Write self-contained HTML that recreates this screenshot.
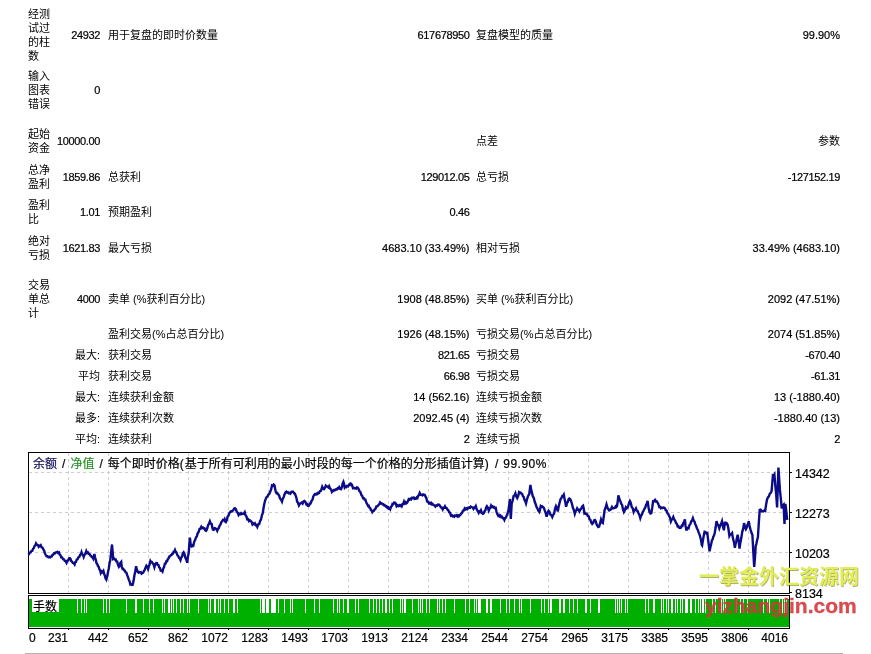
<!DOCTYPE html>
<html><head><meta charset="utf-8"><style>
html,body{margin:0;padding:0;background:#fff;width:871px;height:654px;overflow:hidden;position:relative}
.t{position:absolute;font-family:"Liberation Sans", "Noto Sans CJK SC", sans-serif;font-size:11px;line-height:14px;color:#000;white-space:nowrap;}
.n{letter-spacing:-0.35px}
.v{-webkit-text-stroke:0.2px #000}
.ch{position:absolute;left:0;top:0}
.c{position:absolute;font-family:"Liberation Sans", "Noto Sans CJK SC", sans-serif;font-size:12px;line-height:14px;white-space:nowrap;color:#000;-webkit-text-stroke:0.2px currentColor}
.xl{position:absolute;top:631px;font-family:"Liberation Sans", "Noto Sans CJK SC", sans-serif;font-size:12px;line-height:14px;white-space:nowrap;-webkit-text-stroke:0.2px #000}
.yl{position:absolute;left:795px;font-family:"Liberation Sans", "Noto Sans CJK SC", sans-serif;font-size:12.5px;line-height:14px;white-space:nowrap;-webkit-text-stroke:0.2px #000}
.hr{position:absolute;left:25px;top:653px;width:818px;height:1px;background:#b4b4b4}
.wm1{position:absolute;left:699px;top:565px;font-family:"Liberation Sans","Noto Sans CJK SC",sans-serif;font-weight:700;font-size:20px;line-height:24px;color:#e2ee58;text-shadow:0.7px 0.7px 0 rgba(110,110,0,0.55);white-space:nowrap}
.wm2{position:absolute;left:705px;top:594px;font-family:"Liberation Sans",sans-serif;font-weight:bold;font-size:21px;line-height:24px;color:rgba(212,52,58,0.88);-webkit-text-stroke:0.3px rgba(212,52,58,0.88);white-space:nowrap}
</style></head><body>
<div class="t" style="left:28px;top:7.3px">经测<br>试过<br>的柱<br>数</div>
<div class="t n v" style="right:771px;top:28.3px">24932</div>
<div class="t " style="left:108px;top:28.3px">用于复盘的即时价数量</div>
<div class="t n v" style="right:401.5px;top:28.3px">617678950</div>
<div class="t " style="left:476px;top:28.3px">复盘模型的质量</div>
<div class="t v" style="right:31px;top:28.3px">99.90%</div>
<div class="t" style="left:28px;top:69.3px">输入<br>图表<br>错误</div>
<div class="t n v" style="right:771px;top:83.3px">0</div>
<div class="t" style="left:28px;top:127.4px">起始<br>资金</div>
<div class="t n v" style="right:771px;top:134.4px">10000.00</div>
<div class="t " style="left:476px;top:134.4px">点差</div>
<div class="t " style="right:31px;top:134.4px">参数</div>
<div class="t" style="left:28px;top:163.3px">总净<br>盈利</div>
<div class="t n v" style="right:771px;top:170.3px">1859.86</div>
<div class="t " style="left:108px;top:170.3px">总获利</div>
<div class="t n v" style="right:401.5px;top:170.3px">129012.05</div>
<div class="t " style="left:476px;top:170.3px">总亏损</div>
<div class="t n v" style="right:31px;top:170.3px">-127152.19</div>
<div class="t" style="left:28px;top:198.2px">盈利<br>比</div>
<div class="t n v" style="right:771px;top:205.2px">1.01</div>
<div class="t " style="left:108px;top:205.2px">预期盈利</div>
<div class="t n v" style="right:401.5px;top:205.2px">0.46</div>
<div class="t" style="left:28px;top:234.4px">绝对<br>亏损</div>
<div class="t n v" style="right:771px;top:241.4px">1621.83</div>
<div class="t " style="left:108px;top:241.4px">最大亏损</div>
<div class="t v" style="right:401.5px;top:241.4px">4683.10 (33.49%)</div>
<div class="t " style="left:476px;top:241.4px">相对亏损</div>
<div class="t v" style="right:31px;top:241.4px">33.49% (4683.10)</div>
<div class="t" style="left:28px;top:278.3px">交易<br>单总<br>计</div>
<div class="t n v" style="right:771px;top:291.5px">4000</div>
<div class="t " style="left:108px;top:291.5px">卖单 (%获利百分比)</div>
<div class="t v" style="right:401.5px;top:291.5px">1908 (48.85%)</div>
<div class="t " style="left:476px;top:291.5px">买单 (%获利百分比)</div>
<div class="t v" style="right:31px;top:291.5px">2092 (47.51%)</div>
<div class="t " style="left:108px;top:327.0px">盈利交易(%占总百分比)</div>
<div class="t v" style="right:401.5px;top:327.0px">1926 (48.15%)</div>
<div class="t " style="left:476px;top:327.0px">亏损交易(%占总百分比)</div>
<div class="t v" style="right:31px;top:327.0px">2074 (51.85%)</div>
<div class="t " style="right:771px;top:347.8px">最大:</div>
<div class="t " style="left:108px;top:347.8px">获利交易</div>
<div class="t n v" style="right:401.5px;top:347.8px">821.65</div>
<div class="t " style="left:476px;top:347.8px">亏损交易</div>
<div class="t n v" style="right:31px;top:347.8px">-670.40</div>
<div class="t " style="right:771px;top:368.7px">平均</div>
<div class="t " style="left:108px;top:368.7px">获利交易</div>
<div class="t n v" style="right:401.5px;top:368.7px">66.98</div>
<div class="t " style="left:476px;top:368.7px">亏损交易</div>
<div class="t n v" style="right:31px;top:368.7px">-61.31</div>
<div class="t " style="right:771px;top:389.6px">最大:</div>
<div class="t " style="left:108px;top:389.6px">连续获利金额</div>
<div class="t v" style="right:401.5px;top:389.6px">14 (562.16)</div>
<div class="t " style="left:476px;top:389.6px">连续亏损金额</div>
<div class="t v" style="right:31px;top:389.6px">13 (-1880.40)</div>
<div class="t " style="right:771px;top:410.8px">最多:</div>
<div class="t " style="left:108px;top:410.8px">连续获利次数</div>
<div class="t v" style="right:401.5px;top:410.8px">2092.45 (4)</div>
<div class="t " style="left:476px;top:410.8px">连续亏损次数</div>
<div class="t v" style="right:31px;top:410.8px">-1880.40 (13)</div>
<div class="t " style="right:771px;top:431.9px">平均:</div>
<div class="t " style="left:108px;top:431.9px">连续获利</div>
<div class="t n v" style="right:401.5px;top:431.9px">2</div>
<div class="t " style="left:476px;top:431.9px">连续亏损</div>
<div class="t n v" style="right:31px;top:431.9px">2</div>
<svg class="ch" width="871" height="654" viewBox="0 0 871 654">
<path d="M68.5 453V593 M108.5 453V593 M148.5 453V593 M188.5 453V593 M228.5 453V593 M268.5 453V593 M308.5 453V593 M348.5 453V593 M388.5 453V593 M428.5 453V593 M468.5 453V593 M508.5 453V593 M548.5 453V593 M588.5 453V593 M628.5 453V593 M668.5 453V593 M708.5 453V593 M748.5 453V593 M29 472.5H789 M29 512.5H789 M29 552.5H789" stroke="#cecece" stroke-width="1" stroke-dasharray="3 3" fill="none"/>
<rect x="28.5" y="452.5" width="761" height="141" fill="none" stroke="#000" stroke-width="1"/>
<rect x="28.5" y="595.5" width="761" height="33" fill="none" stroke="#000" stroke-width="1"/>
<rect x="29" y="599" width="760" height="28" fill="#00b000"/>
<path d="M77.5 599V613 M81.5 599V613 M84.5 599V613 M86.5 599V613 M103.5 599V613 M106.5 599V613 M109.5 599V613 M126.5 599V613 M135.5 599V613 M136.5 599V613 M143.5 599V613 M149.5 599V613 M153.5 599V613 M162.5 599V613 M164.5 599V613 M168.5 599V613 M169.5 599V613 M171.5 599V613 M173.5 599V613 M176.5 599V613 M180.5 599V613 M183.5 599V613 M187.5 599V613 M189.5 599V613 M198.5 599V613 M208.5 599V613 M210.5 599V613 M214.5 599V613 M215.5 599V613 M218.5 599V613 M220.5 599V613 M224.5 599V613 M228.5 599V613 M233.5 599V613 M234.5 599V613 M237.5 599V613 M260.5 599V613 M262.5 599V613 M263.5 599V613 M264.5 599V613 M266.5 599V613 M267.5 599V613 M268.5 599V613 M271.5 599V613 M272.5 599V613 M273.5 599V613 M274.5 599V613 M275.5 599V613 M278.5 599V613 M284.5 599V613 M290.5 599V613 M292.5 599V613 M305.5 599V613 M314.5 599V613 M319.5 599V613 M333.5 599V613 M337.5 599V613 M339.5 599V613 M343.5 599V613 M347.5 599V613 M348.5 599V613 M355.5 599V613 M358.5 599V613 M369.5 599V613 M373.5 599V613 M376.5 599V613 M379.5 599V613 M382.5 599V613 M385.5 599V613 M386.5 599V613 M389.5 599V613 M392.5 599V613 M400.5 599V613 M402.5 599V613 M404.5 599V613 M405.5 599V613 M412.5 599V613 M418.5 599V613 M420.5 599V613 M422.5 599V613 M426.5 599V613 M429.5 599V613 M437.5 599V613 M439.5 599V613 M442.5 599V613 M445.5 599V613 M454.5 599V613 M465.5 599V613 M469.5 599V613 M474.5 599V613 M476.5 599V613 M478.5 599V613 M479.5 599V613 M480.5 599V613 M486.5 599V613 M487.5 599V613 M490.5 599V613 M491.5 599V613 M500.5 599V613 M506.5 599V613 M509.5 599V613 M514.5 599V613 M519.5 599V613 M521.5 599V613 M530.5 599V613 M541.5 599V613 M544.5 599V613 M548.5 599V613 M550.5 599V613 M551.5 599V613 M559.5 599V613 M560.5 599V613 M563.5 599V613 M564.5 599V613 M569.5 599V613 M573.5 599V613 M577.5 599V613 M585.5 599V613 M586.5 599V613 M590.5 599V613 M598.5 599V613 M599.5 599V613 M615.5 599V613 M617.5 599V613 M619.5 599V613 M621.5 599V613 M625.5 599V613 M627.5 599V613 M645.5 599V613 M648.5 599V613 M653.5 599V613 M654.5 599V613 M661.5 599V613 M663.5 599V613 M666.5 599V613 M668.5 599V613 M671.5 599V613 M672.5 599V613 M675.5 599V613 M677.5 599V613 M680.5 599V613 M682.5 599V613 M685.5 599V613 M686.5 599V613 M687.5 599V613 M690.5 599V613 M691.5 599V613 M695.5 599V613 M698.5 599V613 M700.5 599V613 M702.5 599V613 M703.5 599V613 M705.5 599V613 M712.5 599V613 M715.5 599V613 M721.5 599V613 M723.5 599V613 M725.5 599V613 M736.5 599V613 M740.5 599V613 M743.5 599V613 M747.5 599V613 M763.5 599V613 M767.5 599V613 M769.5 599V613 M779.5 599V613 M782.5 599V613 M784.5 599V613 M786.5 599V613" stroke="#fff" stroke-width="1"/>
<rect x="32" y="599" width="27" height="13" fill="#fff"/>
<path d="M28.0 554.5 L28.9 554.2 L29.7 552.6 L30.6 552.4 L31.4 551.0 L32.3 550.8 L33.0 548.9 L33.8 548.1 L34.5 546.2 L35.3 545.3 L36.0 543.4 L36.9 544.7 L37.8 545.0 L38.7 546.7 L39.4 545.8 L40.1 546.1 L40.8 545.3 L41.7 547.5 L42.6 547.7 L43.5 549.7 L44.2 550.8 L45.0 553.5 L45.7 554.8 L46.6 556.2 L47.4 556.2 L48.3 557.2 L49.2 556.7 L50.1 557.5 L51.0 556.7 L51.7 556.5 L52.5 554.8 L53.2 554.6 L54.0 553.3 L54.8 553.4 L55.6 552.4 L56.4 552.4 L57.3 551.8 L58.1 552.9 L59.0 552.4 L59.7 554.6 L60.5 555.2 L61.2 557.3 L62.1 557.4 L63.0 559.2 L63.9 559.3 L64.8 560.9 L65.6 561.0 L66.5 562.8 L67.3 560.7 L68.2 560.5 L69.0 558.5 L69.8 558.2 L70.5 558.9 L71.2 561.0 L71.9 561.6 L72.8 562.9 L73.7 563.0 L74.6 564.4 L75.3 562.1 L76.0 561.8 L76.7 559.6 L77.6 559.2 L78.5 557.2 L79.4 556.8 L80.1 554.7 L80.8 554.3 L81.5 552.2 L82.2 554.5 L83.0 554.8 L83.7 556.9 L84.6 554.6 L85.4 553.7 L86.3 551.1 L87.1 552.9 L87.9 552.4 L88.8 553.9 L89.6 554.0 L90.3 555.6 L91.1 555.8 L91.8 557.2 L92.6 557.4 L93.3 558.7 L94.4 554.1 L95.1 557.6 L95.8 559.7 L96.5 563.1 L97.2 563.9 L98.0 566.2 L98.7 566.9 L99.4 569.3 L100.1 570.3 L100.8 573.1 L101.7 571.5 L102.5 572.2 L103.4 570.9 L104.1 573.8 L104.8 575.4 L105.6 578.6 L106.3 579.7 L107.2 576.5 L108.0 572.0 L108.8 568.4 L109.5 563.6 L110.3 560.1 L111.2 551.5 L112.0 544.5 L112.6 551.2 L113.2 559.0 L114.1 558.5 L114.9 559.5 L115.7 559.5 L116.4 561.5 L117.2 561.6 L118.1 565.0 L118.9 566.7 L119.7 565.5 L120.4 562.8 L121.2 561.9 L121.8 567.2 L122.6 569.0 L123.3 568.9 L124.1 570.3 L124.9 570.7 L125.6 572.4 L126.4 572.7 L127.2 575.2 L127.9 576.8 L128.7 579.4 L129.6 581.4 L130.4 584.5 L131.2 584.3 L131.9 584.9 L132.7 584.7 L133.6 580.6 L134.4 575.5 L135.2 571.7 L136.1 566.2 L136.9 569.7 L137.8 572.0 L138.6 572.6 L139.3 572.0 L140.1 572.5 L140.9 572.2 L141.6 573.7 L142.4 573.1 L143.2 572.7 L143.9 571.0 L144.7 570.2 L145.6 567.4 L146.4 565.7 L147.2 566.6 L148.1 569.1 L148.9 566.2 L149.6 564.5 L150.4 561.0 L151.2 562.2 L151.9 562.1 L152.7 563.3 L153.6 564.4 L154.4 567.2 L155.3 564.1 L156.2 563.1 L157.0 563.2 L157.7 564.8 L158.5 565.1 L159.2 567.4 L160.0 568.1 L160.7 570.5 L161.6 570.3 L162.5 571.5 L163.3 568.4 L164.0 567.2 L164.8 563.8 L165.5 563.7 L166.3 561.4 L167.0 561.3 L167.8 559.2 L168.5 558.5 L169.3 556.5 L170.0 556.3 L170.8 555.2 L171.5 555.0 L172.2 553.7 L172.9 553.6 L173.6 551.8 L174.3 551.9 L175.0 550.1 L175.6 551.7 L176.5 552.5 L177.4 555.3 L178.2 555.9 L178.9 557.7 L179.7 558.3 L180.5 560.1 L181.3 557.4 L182.1 556.4 L182.8 553.3 L183.6 552.3 L184.5 554.2 L185.4 557.9 L186.3 559.6 L187.2 562.8 L187.9 556.8 L188.7 553.0 L189.3 544.4 L189.9 537.6 L190.9 546.1 L191.7 546.5 L192.5 545.3 L193.3 545.7 L194.2 541.8 L195.2 539.9 L196.0 537.4 L196.8 536.5 L197.6 533.6 L198.6 532.0 L199.5 529.1 L200.4 528.6 L201.3 526.8 L202.1 528.1 L202.9 527.6 L203.7 528.5 L204.5 528.4 L205.4 530.5 L206.2 530.8 L207.1 528.8 L208.0 525.4 L208.9 523.9 L209.9 521.3 L210.8 523.6 L211.7 524.0 L212.3 527.7 L212.9 529.5 L213.7 529.8 L214.6 528.1 L215.4 528.3 L216.3 529.0 L217.2 530.8 L218.0 528.8 L218.8 528.1 L219.6 525.9 L220.4 524.7 L221.3 522.3 L222.1 521.3 L222.9 520.0 L223.7 520.3 L224.5 519.1 L225.2 521.6 L225.8 522.1 L226.7 520.3 L227.6 516.6 L228.4 515.8 L229.2 513.3 L230.0 512.3 L230.8 511.3 L231.7 511.6 L232.5 510.7 L233.3 510.4 L234.1 508.6 L234.9 508.2 L235.9 509.2 L236.8 511.9 L237.7 512.7 L238.6 515.0 L239.4 513.8 L240.3 514.2 L241.1 513.1 L242.0 514.1 L242.9 513.7 L243.8 513.6 L244.7 512.2 L245.5 515.2 L246.4 516.4 L247.2 519.4 L248.1 519.2 L249.0 521.1 L249.9 520.3 L250.8 521.1 L251.6 521.9 L252.4 524.3 L253.2 523.4 L254.1 524.2 L254.9 523.4 L255.7 525.2 L256.5 525.0 L257.3 526.8 L258.2 524.5 L259.2 524.1 L260.1 520.9 L261.0 519.5 L261.9 515.3 L262.8 513.0 L263.5 508.3 L264.1 504.7 L265.0 501.0 L265.9 498.4 L266.7 496.9 L267.5 496.6 L268.3 494.6 L269.2 494.1 L270.2 491.8 L271.1 489.4 L272.0 485.4 L272.8 485.7 L273.7 484.5 L274.5 485.3 L275.7 491.7 L276.5 493.2 L277.3 492.9 L278.1 494.3 L279.1 495.4 L280.0 498.6 L281.0 499.4 L282.0 501.6 L282.8 498.7 L283.6 497.2 L284.6 494.2 L285.5 492.3 L286.3 491.7 L287.1 492.6 L287.9 492.2 L288.7 493.2 L289.6 492.8 L290.4 493.5 L291.3 491.9 L292.2 491.8 L293.1 491.8 L294.0 493.2 L294.9 493.6 L295.9 496.3 L296.5 498.2 L297.1 501.5 L298.0 502.9 L298.9 505.4 L299.9 503.7 L300.8 503.2 L301.7 502.6 L302.6 503.6 L303.5 501.3 L304.4 500.9 L305.4 501.9 L306.3 504.2 L307.0 504.0 L307.8 505.7 L308.5 505.9 L309.2 505.3 L309.9 503.6 L310.6 503.4 L311.5 501.0 L312.4 500.0 L313.3 496.5 L314.2 495.0 L315.0 494.1 L315.9 494.6 L316.7 493.7 L317.5 494.0 L318.3 492.7 L319.1 492.9 L320.1 491.0 L321.0 490.8 L322.2 486.8 L323.1 488.6 L324.0 489.2 L324.9 488.0 L325.8 485.7 L326.6 486.5 L327.5 486.5 L328.3 487.4 L329.1 486.2 L330.0 488.5 L331.0 489.4 L331.9 491.9 L332.7 490.7 L333.4 490.9 L334.2 489.9 L335.1 490.1 L336.0 489.3 L336.9 489.5 L337.7 488.2 L338.4 488.4 L339.2 487.1 L340.1 488.9 L341.1 489.1 L341.9 487.2 L342.6 483.7 L343.4 481.9 L344.0 483.9 L344.7 487.5 L345.5 486.5 L346.2 487.1 L347.0 486.0 L347.9 486.4 L348.9 484.9 L349.7 485.1 L350.4 483.5 L351.2 483.7 L352.1 485.3 L353.0 488.2 L353.8 487.9 L354.5 488.5 L355.3 488.2 L356.1 488.6 L356.8 487.4 L357.6 487.6 L358.5 488.8 L359.4 491.2 L360.4 492.0 L361.3 494.8 L362.2 495.9 L363.1 498.3 L363.9 498.3 L364.6 499.6 L365.4 499.6 L366.3 502.5 L367.2 504.1 L368.0 505.9 L368.7 505.7 L369.5 507.6 L370.2 508.1 L370.9 510.1 L371.6 510.3 L372.3 512.1 L373.1 511.0 L373.8 510.9 L374.6 509.5 L375.5 508.7 L376.4 506.4 L377.4 506.4 L378.3 505.2 L379.2 504.3 L380.1 502.4 L380.9 503.4 L381.6 503.3 L382.4 504.2 L383.2 504.2 L383.9 505.2 L384.7 505.0 L385.6 506.4 L386.5 506.1 L387.4 507.7 L388.1 507.2 L388.8 508.6 L389.5 508.2 L390.2 509.3 L391.0 506.9 L391.7 506.2 L392.5 503.9 L393.3 504.1 L394.0 502.7 L394.8 502.6 L395.7 503.4 L396.6 506.2 L397.5 505.2 L398.5 506.1 L399.4 505.2 L400.2 505.9 L400.9 505.3 L401.7 506.3 L402.5 504.0 L403.2 503.9 L404.0 501.7 L404.6 503.2 L405.4 502.3 L406.1 503.4 L406.9 502.8 L407.8 501.4 L408.7 499.2 L409.5 499.6 L410.2 498.8 L411.0 499.4 L411.9 497.8 L412.9 497.9 L413.7 497.5 L414.4 498.9 L415.2 498.5 L415.9 498.6 L416.7 497.5 L417.4 498.0 L418.2 495.7 L418.9 495.2 L419.7 492.9 L420.6 494.6 L421.6 494.8 L422.4 495.3 L423.1 494.4 L423.9 494.6 L424.8 495.0 L425.7 496.9 L426.4 498.2 L427.1 501.4 L428.0 501.6 L428.9 503.4 L429.7 502.9 L430.4 503.8 L431.2 503.0 L432.0 504.4 L432.7 504.0 L433.5 505.1 L434.4 505.4 L435.4 506.6 L436.3 505.4 L437.2 505.7 L438.1 504.5 L439.0 504.6 L439.9 505.6 L440.9 507.5 L441.8 507.6 L442.7 509.5 L443.5 507.8 L444.2 507.8 L445.0 506.3 L445.9 508.0 L446.8 508.2 L447.6 509.9 L448.3 510.2 L449.1 512.1 L450.1 512.8 L451.0 515.6 L451.8 515.3 L452.5 516.3 L453.3 515.9 L454.2 516.7 L455.1 515.4 L456.0 515.8 L456.7 515.3 L457.4 516.3 L458.1 515.5 L458.8 516.3 L459.6 515.1 L460.3 515.1 L461.1 513.5 L462.0 512.9 L462.9 510.8 L463.8 510.5 L464.7 508.4 L465.5 509.3 L466.2 508.5 L467.0 509.2 L467.8 507.9 L468.5 508.1 L469.3 507.4 L470.1 507.7 L470.8 506.6 L471.6 507.0 L472.6 507.4 L473.5 508.9 L474.3 507.5 L475.0 507.6 L475.8 506.1 L476.7 509.3 L477.6 510.8 L478.7 512.9 L479.5 511.5 L480.2 512.0 L481.0 510.3 L481.9 512.8 L482.8 513.8 L483.7 513.3 L484.6 511.2 L485.4 510.2 L486.1 507.5 L486.9 506.2 L487.9 507.8 L488.8 510.6 L489.6 508.6 L490.3 507.9 L491.1 505.5 L491.9 506.8 L492.6 506.4 L493.4 507.5 L494.2 507.1 L494.9 508.1 L495.7 507.8 L496.6 512.1 L497.5 514.4 L498.3 515.8 L499.0 515.2 L499.8 516.5 L500.6 515.8 L501.3 517.2 L502.1 516.8 L502.9 518.3 L503.6 518.3 L504.4 520.0 L505.2 517.9 L505.9 517.6 L506.7 515.6 L507.6 513.4 L508.5 509.8 L509.2 505.1 L509.9 499.0 L510.8 519.0 L511.7 503.7 L512.6 500.8 L513.6 496.0 L514.5 495.5 L515.4 493.4 L516.3 496.5 L517.2 498.1 L518.2 495.8 L519.1 492.2 L519.9 492.9 L520.6 492.6 L521.4 493.6 L522.2 494.1 L522.9 496.3 L523.7 496.9 L524.5 500.0 L525.2 500.9 L526.0 503.3 L526.9 499.6 L527.8 496.8 L528.5 495.1 L529.2 494.5 L530.4 484.9 L531.1 489.4 L531.9 492.6 L532.8 496.3 L533.8 498.0 L534.7 501.8 L535.6 504.0 L536.5 506.9 L537.4 508.3 L538.3 510.7 L539.3 512.0 L540.0 509.7 L540.7 506.1 L541.5 506.9 L542.2 506.3 L543.0 507.1 L543.9 508.0 L544.8 510.7 L545.7 513.1 L546.6 516.7 L547.5 513.1 L548.5 510.8 L549.4 511.7 L550.3 514.6 L551.3 514.9 L552.3 517.0 L553.2 514.8 L554.1 513.7 L555.0 508.9 L556.0 506.2 L556.9 508.1 L557.8 511.5 L558.7 506.4 L559.6 502.7 L560.5 499.3 L561.5 498.0 L562.3 496.0 L563.0 496.0 L563.8 494.6 L564.6 498.9 L565.3 502.1 L566.1 506.8 L567.0 503.2 L567.9 501.7 L568.6 499.1 L569.3 498.5 L570.2 499.0 L571.1 501.2 L572.0 504.0 L573.0 508.1 L573.9 510.1 L574.8 513.8 L575.6 511.2 L576.3 510.4 L577.1 508.4 L577.9 509.7 L578.6 509.7 L579.4 511.4 L580.3 509.5 L581.2 508.8 L582.2 506.6 L583.1 505.8 L583.8 509.0 L584.4 513.5 L585.2 513.1 L585.9 514.0 L586.7 513.8 L587.7 515.8 L588.6 516.2 L589.5 519.1 L590.4 519.9 L591.3 522.7 L592.2 523.9 L593.1 523.0 L594.1 520.5 L595.0 520.1 L595.8 521.4 L596.5 524.1 L597.3 525.6 L598.2 526.9 L599.1 526.5 L600.0 523.7 L601.0 519.5 L601.9 522.2 L602.8 523.0 L603.7 517.0 L604.6 510.1 L605.5 508.0 L606.5 504.4 L607.4 507.5 L608.3 509.0 L609.2 510.4 L610.1 510.0 L611.0 509.3 L612.0 507.0 L612.9 508.4 L613.8 508.1 L614.8 507.9 L615.7 506.4 L616.4 507.0 L617.0 506.0 L617.7 501.6 L618.4 495.3 L619.3 498.7 L620.2 500.9 L621.2 503.7 L622.1 504.9 L623.0 509.4 L623.9 512.0 L624.8 510.2 L625.8 507.3 L626.6 508.4 L627.4 507.9 L628.2 505.9 L629.1 503.0 L629.9 501.1 L630.8 503.0 L631.7 506.9 L632.7 508.3 L633.6 511.8 L634.4 509.8 L635.2 509.9 L636.0 508.4 L636.8 510.7 L637.7 511.1 L638.5 513.2 L639.4 515.0 L640.3 518.2 L641.1 515.7 L641.9 514.6 L642.7 512.1 L643.5 510.9 L644.4 508.8 L645.2 507.8 L646.0 504.9 L646.8 503.7 L647.6 500.8 L648.5 507.2 L649.5 512.1 L650.4 513.5 L651.3 513.1 L652.2 507.9 L653.1 501.2 L654.0 501.2 L655.0 499.9 L655.8 501.4 L656.6 501.1 L657.4 502.3 L658.3 503.9 L659.3 507.1 L660.1 506.9 L660.9 508.2 L661.7 507.6 L662.5 508.1 L663.3 507.5 L664.1 507.7 L664.9 508.2 L665.8 510.3 L666.6 510.7 L667.4 513.2 L668.2 513.7 L669.0 515.8 L670.0 517.7 L670.9 521.4 L671.7 519.5 L672.5 519.0 L673.3 517.0 L674.2 519.4 L675.2 520.8 L676.0 523.1 L676.8 523.7 L677.6 526.3 L678.4 526.1 L679.2 527.7 L680.0 528.0 L680.8 527.7 L681.7 525.7 L682.5 525.9 L683.3 523.1 L684.1 521.9 L684.9 519.4 L685.5 525.4 L686.2 529.6 L687.0 529.6 L687.8 528.0 L688.6 528.2 L689.5 525.0 L690.4 523.9 L691.2 521.3 L692.1 520.5 L692.9 518.2 L693.7 520.7 L694.5 521.7 L695.3 524.2 L696.1 525.8 L697.0 528.6 L697.8 529.9 L698.6 532.4 L699.4 534.1 L700.2 536.7 L701.0 540.1 L701.8 545.1 L702.1 545.5 L703.3 538.1 L704.0 534.3 L704.6 531.8 L705.5 532.0 L706.4 533.3 L707.3 533.0 L708.1 539.7 L708.8 544.8 L709.6 551.3 L710.4 547.1 L711.1 544.6 L711.9 540.3 L712.6 539.5 L713.3 536.7 L714.0 535.6 L714.7 533.0 L715.6 527.8 L716.5 521.1 L717.4 524.0 L718.4 525.3 L719.3 528.3 L720.2 525.5 L721.1 523.9 L722.0 521.3 L723.0 526.7 L723.9 530.3 L724.8 522.8 L725.5 522.6 L726.2 524.0 L726.9 523.5 L727.6 524.6 L728.5 529.3 L729.4 535.8 L730.3 534.1 L731.2 534.3 L732.1 533.1 L733.0 538.6 L734.0 542.2 L734.9 547.9 L735.6 543.9 L736.3 541.2 L737.0 537.4 L737.7 534.7 L738.6 540.7 L739.5 548.6 L740.4 542.4 L741.3 538.1 L742.2 532.1 L743.2 528.4 L744.1 523.1 L745.0 527.1 L745.9 529.2 L746.6 527.9 L747.3 525.2 L748.0 524.0 L748.7 521.2 L749.6 526.0 L750.5 529.6 L751.5 532.8 L752.4 535.0 L753.3 551.8 L754.2 567.0 L755.0 557.2 L755.7 546.1 L756.4 543.6 L757.2 539.7 L757.9 537.4 L758.8 523.0 L759.7 509.9 L760.6 509.7 L761.6 511.2 L762.5 511.2 L763.4 511.3 L764.3 510.5 L765.2 510.9 L766.1 504.6 L767.0 499.7 L767.9 497.4 L768.9 496.3 L769.8 493.6 L770.7 492.9 L771.6 490.9 L772.2 484.0 L772.9 475.3 L773.6 475.6 L774.4 474.4 L775.3 485.2 L776.2 494.4 L777.1 507.4 L777.8 486.7 L778.4 467.6 L779.1 477.9 L779.9 489.7 L780.8 498.4 L781.7 508.4 L782.7 505.6 L783.6 504.6 L784.5 523.9 L785.4 503.8 L786.3 511.1 L787.2 519.9" stroke="#0c0c88" stroke-width="2.4" fill="none" stroke-linejoin="miter" shape-rendering="auto"/>
<path d="M790 472.5H792 M790 512.5H792 M790 552.5H792 M790 592.5H792 M68.5 629V630 M108.5 629V630 M148.5 629V630 M188.5 629V630 M228.5 629V630 M268.5 629V630 M308.5 629V630 M348.5 629V630 M388.5 629V630 M428.5 629V630 M468.5 629V630 M508.5 629V630 M548.5 629V630 M588.5 629V630 M628.5 629V630 M668.5 629V630 M708.5 629V630 M748.5 629V630" stroke="#000" stroke-width="1"/>
</svg>
<div class="c" style="left:33px;top:457px;word-spacing:1.7px"><span style="color:#101058">余额</span> / <span style="color:#259025">净值</span> / 每个即时价格<span style="letter-spacing:1px">(</span>基于所有可利用的最小时段的每一个价格的分形插值计算<span style="letter-spacing:1px">)</span> / <span style="letter-spacing:0.5px">99.90%</span></div>
<div class="c" style="left:33px;top:600px;font-size:12px">手数</div>
<div class="xl" style="left:29px">0</div><div class="xl" style="right:803px">231</div><div class="xl" style="right:763px">442</div><div class="xl" style="right:723px">652</div><div class="xl" style="right:683px">862</div><div class="xl" style="right:643px">1072</div><div class="xl" style="right:603px">1283</div><div class="xl" style="right:563px">1493</div><div class="xl" style="right:523px">1703</div><div class="xl" style="right:483px">1913</div><div class="xl" style="right:443px">2124</div><div class="xl" style="right:403px">2334</div><div class="xl" style="right:363px">2544</div><div class="xl" style="right:323px">2754</div><div class="xl" style="right:283px">2965</div><div class="xl" style="right:243px">3175</div><div class="xl" style="right:203px">3385</div><div class="xl" style="right:163px">3595</div><div class="xl" style="right:123px">3806</div><div class="xl" style="right:83px">4016</div>
<div class="yl" style="top:467px">14342</div><div class="yl" style="top:507px">12273</div><div class="yl" style="top:547px">10203</div><div class="yl" style="top:587px">8134</div>
<div class="hr"></div>
<div class="wm1">一掌金外汇资源网</div>
<div class="wm2">yizhangjin.com</div>
</body></html>
